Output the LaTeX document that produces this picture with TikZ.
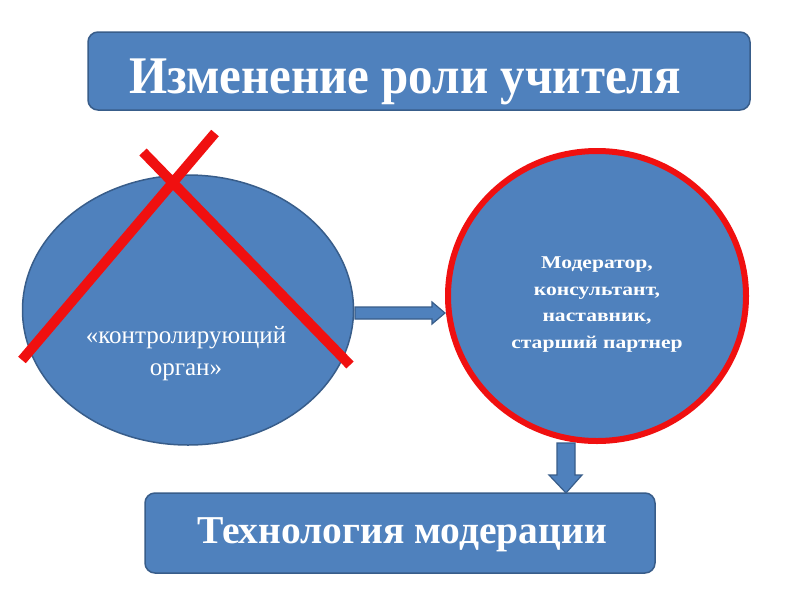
\documentclass[tikz,border=0pt]{standalone}
\usepackage{fontspec}
\setmainfont{Liberation Serif}
\usetikzlibrary{shapes.geometric,calc}
\definecolor{boxblue}{HTML}{4F81BD}
\definecolor{boxedge}{HTML}{385D8A}
\definecolor{crossred}{HTML}{F01010}
\tikzset{
  bluebox/.style={fill=boxblue,draw=boxedge,line width=1.5pt,rounded corners=10pt},
  wtext/.style={text=white,inner sep=0pt},
  blockarrow/.style={fill=boxblue,draw=boxedge,line width=1.2pt,line join=miter},
  crossline/.style={draw=crossred,line width=10pt}
}
\newcommand{\wide}[2]{\scalebox{#1}[1]{\begin{tabular}{@{}c@{}}#2\end{tabular}}}
\begin{document}
\begin{tikzpicture}[x=1pt,y=-1pt]
\useasboundingbox (0,0) rectangle (800,600);
\fill[white] (0,0) rectangle (800,600);
% title
\draw[bluebox] (88,32) rectangle (750,110);
\node[wtext,anchor=base,font=\fontsize{49}{54}\selectfont\bfseries] (title) at (405,93) {\scalebox{1}[1.08]{Изменение роли учителя}};
% left ellipse
\node[ellipse,fill=boxblue,draw=boxedge,line width=1.5pt,minimum width=331pt,minimum height=270pt,inner sep=0pt] (left) at (188,310) {};
\node[wtext,align=center,font=\fontsize{25}{32}\selectfont] (lefttext) at (186,354) {«контролирующий\\орган»};
% cross
\draw[crossline] (143,152) -- (350,365);
\draw[crossline] (215,133) -- (22,360);
% right circle
\node[ellipse,fill=boxblue,draw=crossred,line width=6pt,minimum width=298pt,minimum height=290pt,inner sep=0pt] (right) at (597,296) {};
\node[wtext,font=\fontsize{18}{26.5}\selectfont\bfseries] (righttext) at (597,303) {\wide{1.2}{Модератор,\\консультант,\\наставник,\\старший партнер}};
% bottom box
\draw[bluebox] (145,493) rectangle (655,573);
\node[wtext,anchor=base,font=\fontsize{39.5}{44}\selectfont\bfseries] (bottom) at (402,543) {Технология модерации};
% right arrow
\draw[blockarrow] (355,307) -- (432,307) -- (432,302) -- (445,313) -- (432,324) -- (432,319) -- (355,319) -- cycle;
% down arrow
\draw[blockarrow] (557,443) -- (575,443) -- (575,475) -- (582,475) -- (566,493) -- (549,475) -- (557,475) -- cycle;
\end{tikzpicture}
\end{document}
